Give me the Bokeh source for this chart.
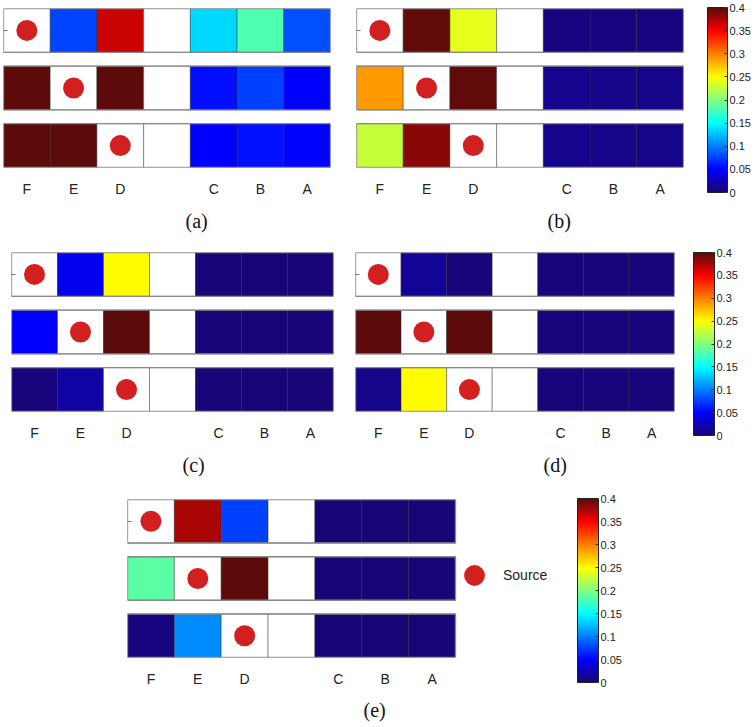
import numpy as np
from bokeh.plotting import figure
from bokeh.models import (ColumnDataSource, LinearColorMapper, FixedTicker, Title,
                          Legend, LegendItem, Spacer, Range1d, ColorBar)
from bokeh.layouts import column, row
from bokeh.transform import transform
from bokeh.embed import file_html
from bokeh.resources import INLINE

# ---------------- data ----------------
columns = ["F", "E", "D", "", "C", "B", "A"]       # "" = empty gap column
row_index = [0, 1, 2]
source_col = ["F", "E", "D"]                        # source position per row
legend_label = "Source"

# values per row, in column order F E D gap C B A ; None = white cell
panel_a = [
    [None, 0.078, 0.365, None, 0.135, 0.180, 0.082],
    [0.400, None, 0.400, None, 0.055, 0.075, 0.050],
    [0.400, 0.400, None, None, 0.050, 0.057, 0.052],
]
panel_b = [
    [None, 0.398, 0.240, None, 0.005, 0.005, 0.005],
    [0.290, None, 0.398, None, 0.010, 0.008, 0.008],
    [0.228, 0.385, None, None, 0.010, 0.008, 0.008],
]
panel_c = [
    [None, 0.045, 0.250, None, 0.003, 0.003, 0.003],
    [0.050, None, 0.400, None, 0.003, 0.003, 0.003],
    [0.004, 0.018, None, None, 0.003, 0.003, 0.003],
]
panel_d = [
    [None, 0.013, 0.004, None, 0.004, 0.004, 0.004],
    [0.400, None, 0.400, None, 0.004, 0.004, 0.004],
    [0.008, 0.250, None, None, 0.004, 0.004, 0.004],
]
panel_e = [
    [None, 0.376, 0.075, None, 0.003, 0.003, 0.003],
    [0.185, None, 0.400, None, 0.003, 0.003, 0.003],
    [0.005, 0.105, None, None, 0.003, 0.003, 0.003],
]
captions = ["(a)", "(b)", "(c)", "(d)", "(e)"]
cbar_ticks = [0, 0.05, 0.1, 0.15, 0.2, 0.25, 0.3, 0.35, 0.4]
cbar_labels = ["0", "0.05", "0.1", "0.15", "0.2", "0.25", "0.3", "0.35", "0.4"]
cmin, cmax = 0.0, 0.4

# column centres on a numeric axis (one unit per cell)
col_pos = {c: i + 0.5 for i, c in enumerate(columns)}
tick_pos = [col_pos[c] for c in columns if c]
tick_lab = {col_pos[c]: c for c in columns if c}

# ---------------- colour map (jet) ----------------
def jet_palette(n=256):
    stops = [(0.0, (0.10, 0.02, 0.45)), (0.125, (0.0, 0.0, 1.0)), (0.375, (0.0, 1.0, 1.0)),
             (0.625, (1.0, 1.0, 0.0)), (0.875, (1.0, 0.0, 0.0)), (1.0, (0.36, 0.04, 0.04))]
    ts = [s[0] for s in stops]
    pal = []
    for t in np.linspace(0, 1, n):
        rgb = [np.interp(t, ts, [s[1][k] for s in stops]) for k in range(3)]
        pal.append("#%02x%02x%02x" % tuple(int(round(255 * c)) for c in rgb))
    return pal

mapper = LinearColorMapper(palette=jet_palette(), low=cmin, high=cmax, nan_color="white")

FONT = "Liberation Sans"
SERIF = "Liberation Serif"


def make_panel(vals, caption, cap_offset, width, height, mb, cap_standoff=16,
               cbar=None, legend_loc=None, x_end=7.0):
    xs, ys, vs = [], [], []
    for r, rowvals in zip(row_index, vals):
        for c, v in zip(columns, rowvals):
            xs.append(col_pos[c])
            ys.append(r)
            vs.append(np.nan if v is None else v)
    src = ColumnDataSource(dict(x=xs, y=ys, v=np.array(vs, dtype=float)))
    left, right, top, bottom = mb
    p = figure(width=width, height=height, x_range=Range1d(0, x_end),
               y_range=Range1d(2.38, -0.38), output_backend="svg", toolbar_location=None,
               min_border_left=left, min_border_right=right, min_border_top=top,
               min_border_bottom=bottom)
    p.outline_line_color = None
    p.grid.visible = False
    p.rect(x="x", y="y", width=1, height=0.76, source=src,
           fill_color=transform("v", mapper), line_color="#2a2a2a", line_alpha=0.55,
           line_width=0.8)
    # outline of each row strip
    p.rect(x=[len(columns) / 2] * 3, y=row_index, width=len(columns), height=0.76,
           fill_color=None, line_color="#8a8a8a", line_width=1.3)
    dots = p.scatter(x=[col_pos[c] for c in source_col], y=row_index, size=21,
                     fill_color="#d21f1f", line_color=None)

    ax = p.xaxis[0]
    ax.ticker = FixedTicker(ticks=tick_pos)
    ax.major_label_overrides = tick_lab
    ax.major_label_text_font = FONT
    ax.major_label_text_font_size = "14px"
    ax.major_label_text_color = "#222222"
    ax.major_tick_line_color = None
    ax.major_tick_out = 0
    ax.major_tick_in = 0
    ax.minor_tick_line_color = None
    ax.axis_line_color = None
    ax.major_label_standoff = 13

    ya = p.yaxis[0]
    ya.ticker = FixedTicker(ticks=[0])
    ya.major_label_overrides = {0: ""}
    ya.major_label_standoff = 0
    ya.major_tick_in = 4
    ya.major_tick_out = 0
    ya.major_tick_line_color = "#777777"
    ya.minor_tick_line_color = None
    ya.axis_line_color = None

    p.add_layout(Title(text=caption, align="left", offset=cap_offset, standoff=cap_standoff,
                       text_font=SERIF, text_font_size="20px", text_font_style="normal",
                       text_color="#111111"), "below")

    if legend_loc is not None:
        leg = Legend(items=[LegendItem(label=legend_label, renderers=[dots])],
                     location=legend_loc, glyph_width=52, glyph_height=52, padding=0,
                     margin=0, spacing=0, label_standoff=3, border_line_color=None,
                     background_fill_alpha=0, label_text_font=FONT,
                     label_text_font_size="14px", label_text_color="#222222")
        p.add_layout(leg, "center")

    if cbar is not None:
        cx, cy, cw, ch = cbar
        cb = ColorBar(color_mapper=mapper, orientation="vertical", location=(cx, cy),
                      width=cw, height=ch, padding=0, margin=0,
                      ticker=FixedTicker(ticks=cbar_ticks),
                      major_label_overrides=dict(zip(cbar_ticks, cbar_labels)),
                      major_label_text_font=FONT, major_label_text_font_size="11px",
                      major_label_text_color="#222222", label_standoff=2,
                      major_tick_in=3, major_tick_out=0, major_tick_line_color="#333333",
                      bar_line_color="#222222", bar_line_width=1,
                      border_line_color=None, background_fill_alpha=0)
        p.add_layout(cb, "center")
    return p


fa = make_panel(panel_a, captions[0], 182, 345, 244, (3, 15, 8, 77))
fb = make_panel(panel_b, captions[1], 191, 408, 244, (11, 70, 8, 77),
                cbar=(351, -25, 20, 185))

fc = make_panel(panel_c, captions[2], 171, 344, 247, (11, 11, 8, 80))
fd = make_panel(panel_d, captions[3], 188, 409, 247, (11, 79, 8, 80),
                cbar=(338, -24, 21, 183))

# panel (e): frame widened to the right (434 px instead of 328 px) so the
# "Source" legend sits inside the frame; cells keep their 328/7 px width.
fe = make_panel(panel_e, captions[4], 236, 638, 236, (12, 192, 8, 68), cap_standoff=14,
                cbar=(450, -25, 21, 184), legend_loc=(321, 56), x_end=7.0 * 434 / 328)

layout = column(
    row(fa, fb),
    row(fc, fd),
    row(Spacer(width=115, height=236), fe),
)

open("out.html", "w").write(file_html(layout, INLINE))
